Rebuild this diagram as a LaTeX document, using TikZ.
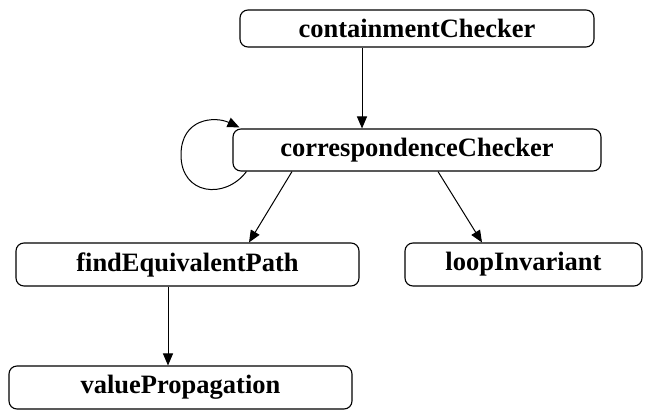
\documentclass[tikz,border=0pt]{standalone}
\usepackage{fontspec}
\setmainfont{Liberation Serif}
\usetikzlibrary{arrows.meta}
\begin{document}
\begin{tikzpicture}[x=1pt,y=1pt,
  box/.style={draw, line width=1.1pt, rounded corners=8pt, inner sep=0pt,
    font=\fontsize{26.5}{28}\selectfont\bfseries},
  edge/.style={line width=1pt, -{Triangle[length=12pt,width=10pt]}}]
\useasboundingbox (0,0) rectangle (656,-410);
\node[box, minimum width=354pt, minimum height=37pt] (cc) at (417,-28.5) {containmentChecker};
\node[box, minimum width=368pt, minimum height=42pt] (co) at (417,-150) {correspondenceChecker};
\node[box, minimum width=343pt, minimum height=43pt] (fe) at (187.5,-264.5) {findEquivalentPath};
\node[box, minimum width=237pt, minimum height=43pt] (li) at (523.5,-264.5) {loopInvariant};
\node[box, minimum width=343pt, minimum height=43pt] (vp) at (180.5,-387.5) {valuePropagation};
\draw[edge] ([xshift=-55pt]cc.south) -- ([xshift=-55pt]co.north);
\draw[edge] ([xshift=-125pt]co.south) -- ([xshift=61.5pt]fe.north);
\draw[edge] ([xshift=21pt]co.south) -- ([xshift=-41.5pt]li.north);
\draw[edge] ([xshift=-19.5pt]fe.south) -- ([xshift=-12.5pt]vp.north);
\draw[edge] ([xshift=14pt]co.south west) .. controls (225,-200) and (181,-195) .. (181,-155)
  .. controls (181,-118) and (215,-116) .. ([xshift=7pt,yshift=1pt]co.north west);
\end{tikzpicture}
\end{document}
